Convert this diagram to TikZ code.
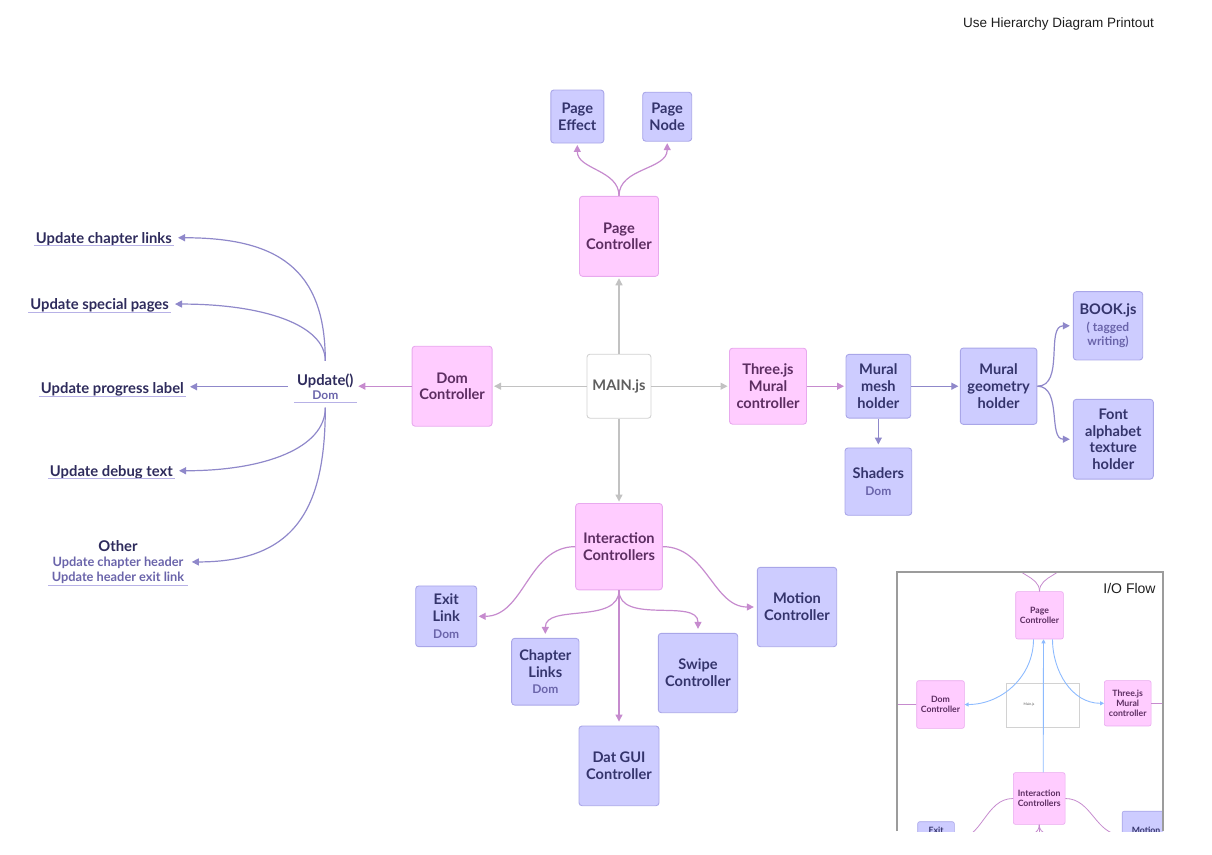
\documentclass[tikz,border=0pt]{standalone}
\usepackage{fontspec}
\setmainfont{Lato}
\newfontfamily\printfont{Liberation Sans}
\usepackage{tikz}
\usetikzlibrary{arrows.meta,positioning}

\definecolor{ctrlfill}{HTML}{FFCCFF}
\definecolor{ctrldraw}{HTML}{E8A9EE}
\definecolor{ctrltext}{HTML}{5C2D61}
\definecolor{holdfill}{HTML}{CDCCFF}
\definecolor{holddraw}{HTML}{A9A6E8}
\definecolor{holdtext}{HTML}{34346C}
\definecolor{subtext}{HTML}{6A64AA}
\definecolor{maindraw}{HTML}{D2D2D2}
\definecolor{maintext}{HTML}{5E5E5E}
\definecolor{pinkline}{HTML}{C68BCE}
\definecolor{lavline}{HTML}{8F88CA}
\definecolor{grayline}{HTML}{C2C2C2}
\definecolor{blueline}{HTML}{8DBBFF}
\definecolor{labeltext}{HTML}{2E2B5C}
\definecolor{uline}{HTML}{B7B1E6}
\definecolor{framegray}{HTML}{9C9C9C}
\definecolor{printtext}{HTML}{1E1E1E}

\newcommand{\boxfont}{\fontsize{14.6}{16.8}\selectfont\bfseries}
\newcommand{\lblfont}{\fontsize{14.8}{16.8}\selectfont\bfseries}
\newcommand{\subfont}{\fontsize{12}{14}\selectfont\color{subtext}}
\newcommand{\otherfont}{\fontsize{12.8}{15}\selectfont\color{subtext}}
\newcommand{\minifont}{\fontsize{8.7}{10}\selectfont\bfseries}

\tikzset
{
    basebox/.style    = {rounded corners=3pt, align=center, font=\boxfont, inner sep=1pt, line width=0.9pt},
    ctrlbox/.style    = {basebox, draw=ctrldraw, fill=ctrlfill, text=ctrltext},
    holderbox/.style  = {basebox, draw=holddraw, fill=holdfill, text=holdtext},
    mainbox/.style    = {basebox, draw=maindraw, fill=white, text=maintext},
    boxdim/.style 2 args = {minimum width=#1, minimum height=#2},
    labelnode/.style  = {text=labeltext, font=\lblfont, inner xsep=2pt, inner ysep=2.5pt, text height=10.5pt, text depth=0pt},
    linkline/.style   = {draw=uline, line width=1pt},
    flow/.style       = {line width=1.2pt, ->, shorten >=1.5pt},
    pinkflow/.style   = {flow, draw=pinkline},
    lavflow/.style    = {flow, draw=lavline},
    grayflow/.style   = {flow, draw=grayline},
    minictrl/.style   = {ctrlbox, font=\minifont, rounded corners=2pt, line width=0.6pt},
    miniholder/.style = {holderbox, font=\minifont, rounded corners=2pt, line width=0.6pt},
    minimain/.style   = {mainbox, rounded corners=0pt, line width=0.9pt},
    miniflow/.style   = {line width=0.8pt, draw=pinkline},
    blueflow/.style   = {line width=0.9pt, draw=blueline, -{Triangle[length=4pt,width=4pt]}},
    inframe/.style    = {draw=framegray, line width=1.3pt}
}

\begin{document}
\begin{tikzpicture}[x=1pt, y=1pt, >={Triangle[length=7pt,width=7pt]}]
    \useasboundingbox (0,0) rectangle (1212,-854);

    \node[font=\printfont\fontsize{13.5}{16}\selectfont, text=printtext] (title) at (1058.5,-24.3) {Use Hierarchy Diagram Printout};

    \node[mainbox, boxdim={64pt}{64pt}] (main) at (619,-386.2) {MAIN.js};
    \node[ctrlbox, boxdim={79pt}{80pt}, above=77pt of main] (pc) {Page\\Controller};
    \node[holderbox, boxdim={53pt}{53pt}] (pe) at (577.3,-116.5) {Page\\Effect};
    \node[holderbox, boxdim={49pt}{49pt}] (pn) at (667.2,-116.7) {Page\\Node};
    \node[ctrlbox, boxdim={80pt}{80pt}, left=94pt of main] (dc) {Dom\\Controller};
    \node[ctrlbox, boxdim={77pt}{76pt}, right=77.6pt of main] (three) {Three.js\\Mural\\controller};
    \node[holderbox, boxdim={64.7pt}{63.7pt}, right=38.6pt of three] (mesh) {Mural\\mesh\\holder};
    \node[holderbox, boxdim={66.7pt}{67.3pt}, below=29pt of mesh] (shaders) {Shaders\\{\subfont Dom}};
    \node[holderbox, boxdim={76.6pt}{76.3pt}, right=48.7pt of mesh] (geom) {Mural\\geometry\\holder};
    \node[holderbox, boxdim={69.4pt}{68.3pt}] (book) at (1108,-325.8) {BOOK.js\\{\subfont ( tagged}\\[-3pt]{\subfont writing)}};
    \node[holderbox, boxdim={80pt}{79.7pt}] (font) at (1113.3,-439.2) {Font\\alphabet\\texture\\holder};
    \node[ctrlbox, boxdim={86.7pt}{86.3pt}, below=84.4pt of main] (ic) {Interaction\\Controllers};
    \node[holderbox, boxdim={61pt}{60.7pt}] (exit) at (446.2,-616.3) {Exit\\Link\\{\subfont Dom}};
    \node[holderbox, boxdim={67.3pt}{66.7pt}] (chap) at (545.3,-671.7) {Chapter\\Links\\{\subfont Dom}};
    \node[holderbox, boxdim={79.4pt}{79.4pt}] (swipe) at (698,-673) {Swipe\\Controller};
    \node[holderbox, boxdim={79.4pt}{79.4pt}] (motion) at (797,-607) {Motion\\Controller};
    \node[holderbox, boxdim={80pt}{79.7pt}, below=135.3pt of ic] (dat) {Dat GUI\\Controller};

    \node[text=labeltext, font=\lblfont, align=center, anchor=south, inner xsep=0pt, inner ysep=2.5pt, minimum width=62.7pt] (upd) at (325.3,-402.7) {Update()\\[-2pt]{\subfont Dom}};
    \node[labelnode, anchor=south east] (chaplinks) at (174,-245.7) {Update chapter links};
    \node[labelnode, anchor=south east] (special) at (171,-312) {Update special pages};
    \node[labelnode, anchor=south east] (progress) at (186,-396) {Update progress label};
    \node[labelnode, anchor=south east] (debug) at (175,-478.7) {Update debug text};
    \node[text=labeltext, font=\lblfont, align=center, anchor=south, inner ysep=1.5pt, minimum width=138pt] (other) at (118,-585) {Other\\[-2pt]{\otherfont Update chapter header}\\[-2pt]{\otherfont Update header exit link}};

    \foreach \n in {chaplinks,special,progress,debug,other,upd}
        \draw[linkline] (\n.south west) -- (\n.south east);

    \draw[grayflow] (main.north) -- (pc.south);
    \draw[grayflow] (main.west) -- (dc.east);
    \draw[grayflow] (main.east) -- (three.west);
    \draw[grayflow] (main.south) -- (ic.north);

    \draw[pinkflow] (pc.north) to[out=90,in=-90] (pe.south);
    \draw[pinkflow] (pc.north) to[out=90,in=-90] (pn.south);
    \draw[pinkflow] (dc.west) -- (dc.west -| upd.east);
    \draw[pinkflow] (three.east) -- (mesh.west);

    \draw[lavflow, shorten <=10pt, shorten >=4pt] (upd.north) to[out=90,in=0,looseness=1.3] (chaplinks.east);
    \draw[lavflow, shorten <=10pt, shorten >=4pt] (upd.north) to[out=90,in=0,out looseness=0.7,in looseness=1.4] (special.east);
    \draw[lavflow, shorten <=6pt, shorten >=4pt] (upd.west) -- (upd.west -| progress.east);
    \draw[lavflow, shorten <=5pt, shorten >=4pt] (upd.south) to[out=-90,in=0,out looseness=0.7,in looseness=1.4] (debug.east);
    \draw[lavflow, shorten <=5pt, shorten >=4pt] (upd.south) to[out=-90,in=0,looseness=1.3] (other.east);

    \draw[lavflow] (mesh.east) -- (geom.west);
    \draw[lavflow, shorten >=3pt] (mesh.south) -- (shaders.north);
    \draw[lavflow, shorten >=3pt] (geom.east) to[out=0,in=180] (book.west);
    \draw[lavflow, shorten >=3pt] (geom.east) to[out=0,in=180] (font.west);

    \draw[pinkflow] (ic.west) to[out=180,in=0] (exit.east);
    \draw[pinkflow, shorten >=4pt] (ic.south) to[out=-90,in=90] (chap.north);
    \draw[pinkflow, shorten >=4pt] (ic.south) -- (dat.north);
    \draw[pinkflow, shorten >=4pt] (ic.south) to[out=-90,in=90] (swipe.north);
    \draw[pinkflow, shorten >=3pt] (ic.east) to[out=0,in=180] (motion.west);

    \begin{scope}
        \clip (897,-572) rectangle (1163,-831);
        \node[font=\printfont\fontsize{14}{16}\selectfont, text=printtext] (ioflow) at (1129.5,-588) {I/O Flow};
        \node[minictrl, boxdim={47.6pt}{47.3pt}] (ipc) at (1039.5,-615.3) {Page\\Controller};
        \node[minictrl, boxdim={47.6pt}{47.6pt}] (idc) at (940.5,-704.5) {Dom\\Controller};
        \node[minimain, boxdim={72.6pt}{44pt}] (imain) at (1043,-705.3) {};
        \node[font=\fontsize{3.5}{4}\selectfont, text=maintext] (imainlbl) at (1029,-705) {Main.js};
        \node[minictrl, boxdim={46.7pt}{45.3pt}] (ithree) at (1127.7,-703.3) {Three.js\\Mural\\controller};
        \node[minictrl, boxdim={51.7pt}{51.7pt}] (iic) at (1039.2,-798.5) {Interaction\\Controllers};
        \node[miniholder, boxdim={36.6pt}{36.6pt}] (iexit) at (936,-840) {Exit\\Link\\Dom};
        \node[miniholder, boxdim={47.6pt}{47.6pt}] (imotion) at (1146,-835) {Motion\\Controller};

        \coordinate (ipe) at (1013,-559);
        \coordinate (ipn) at (1066,-559);
        \coordinate (iupd) at (885,-704.5);
        \coordinate (imesh) at (1175,-703.3);
        \coordinate (ichap) at (995,-851);
        \coordinate (iswipe) at (1086,-847);
        \coordinate (idat) at (1039.2,-880);

        \draw[miniflow] (ipc.north) to[out=90,in=-90] (ipe);
        \draw[miniflow] (ipc.north) to[out=90,in=-90] (ipn);
        \draw[miniflow] (idc.west) -- (iupd);
        \draw[miniflow] (ithree.east) -- (imesh);
        \draw[miniflow] (iic.west) to[out=180,in=0] (iexit.east);
        \draw[miniflow] (iic.east) to[out=0,in=180] (imotion.west);
        \draw[miniflow] (iic.south) to[out=-90,in=90] (ichap);
        \draw[miniflow] (iic.south) to[out=-90,in=90] (iswipe);
        \draw[miniflow] (iic.south) -- (idat);

        \draw[blueflow] ([xshift=4pt]iic.north) -- ([xshift=4pt]ipc.south);
        \draw[blueflow] ([xshift=-6pt]ipc.south) to[out=-90,in=0] (idc.east);
        \draw[blueflow] ([xshift=13pt]ipc.south) to[out=-90,in=180] (ithree.west);
    \end{scope}
    \draw[inframe] (897,-831) -- (897,-572) -- (1163,-572) -- (1163,-831);
\end{tikzpicture}
\end{document}
